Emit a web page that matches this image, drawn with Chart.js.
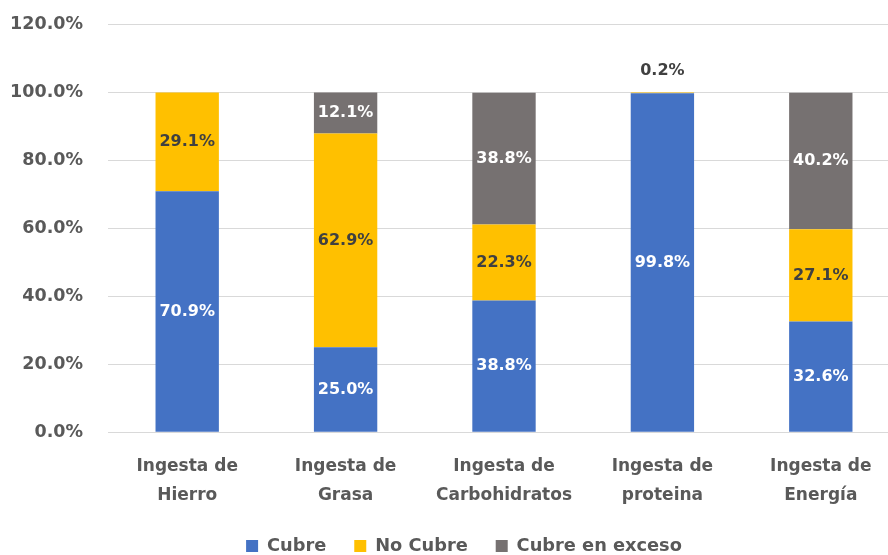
<!DOCTYPE html>
<html>
  <head>
    <title>Ingesta</title>
    <style>
      html, body { margin: 0; padding: 0; overflow: hidden; background: #fff; }
      #wrap { width: 900px; height: 576px; margin-top: -11px; position: relative; }
    </style>
    <script src="https://cdn.jsdelivr.net/npm/chart.js"></script>
  </head>
  <body>
    <div id="wrap"><canvas id="chart"></canvas></div>
    <script>
      const categories = [
        ["Ingesta de", "Hierro"],
        ["Ingesta de", "Grasa"],
        ["Ingesta de", "Carbohidratos"],
        ["Ingesta de", "proteina"],
        ["Ingesta de", "Energía"]
      ];
      const cubre = [70.9, 25.0, 38.8, 99.8, 32.6];
      const noCubre = [29.1, 62.9, 22.3, 0.2, 27.1];
      const cubreExceso = [0, 12.1, 38.8, 0, 40.2];
      const yTicks = [0, 20, 40, 60, 80, 100, 120];

      const FONT = "'DejaVu Sans', sans-serif";
      const TEXT = "#595959";

      // value labels inside the segments, tiny ones go above the bar
      const labelPlugin = {
        id: "segLabels",
        afterDatasetsDraw(chart) {
          const ctx = chart.ctx;
          ctx.save();
          ctx.font = "bold 16px " + FONT;
          ctx.textAlign = "center";
          ctx.textBaseline = "middle";
          chart.data.datasets.forEach((ds, i) => {
            const meta = chart.getDatasetMeta(i);
            meta.data.forEach((el, j) => {
              const v = ds.data[j];
              if (!v) return;
              const h = Math.abs(el.base - el.y);
              let y = (el.y + el.base) / 2;
              ctx.fillStyle = ds.labelColor;
              if (h < 14) {
                y = el.y - 22;
                ctx.fillStyle = "#404040";
              }
              ctx.fillText(v.toFixed(1) + "%", el.x, y);
            });
          });
          ctx.restore();
        }
      };

      // nudge the legend a bit to the right, like the original
      const legendShift = {
        id: "legendShift",
        afterLayout(chart) {
          chart.legend.left += 14;
          chart.legend.right += 14;
        }
      };

      new Chart(document.getElementById("chart"), {
        type: "bar",
        data: {
          labels: categories,
          datasets: [
            { label: "Cubre", data: cubre, backgroundColor: "#4472C4", labelColor: "#ffffff" },
            { label: "No Cubre", data: noCubre, backgroundColor: "#FFC000", labelColor: "#404040" },
            { label: "Cubre en exceso", data: cubreExceso, backgroundColor: "#767171", labelColor: "#ffffff" }
          ]
        },
        options: {
          responsive: true,
          maintainAspectRatio: false,
          animation: false,
          layout: { padding: { top: 13, left: 0, right: 0, bottom: 0 } },
          datasets: { bar: { barPercentage: 0.8, categoryPercentage: 0.5 } },
          plugins: {
            legend: {
              position: "bottom",
              labels: {
                boxWidth: 12,
                boxHeight: 12,
                padding: 28,
                color: TEXT,
                font: { family: FONT, size: 17.8, weight: "bold" }
              }
            },
            tooltip: { enabled: false }
          },
          scales: {
            x: {
              stacked: true,
              grid: { display: false, drawTicks: false },
              border: { display: false },
              ticks: {
                color: TEXT,
                padding: 20,
                font: { family: FONT, size: 17, weight: "bold", lineHeight: 1.7 }
              },
              afterFit(scale) { scale.height = 77; }
            },
            y: {
              stacked: true,
              min: 0,
              max: 120,
              afterBuildTicks(scale) {
                scale.ticks = yTicks.map(v => ({ value: v }));
              },
              grid: { color: "#D9D9D9", drawTicks: false, lineWidth: 1 },
              border: { display: false },
              ticks: {
                color: TEXT,
                padding: 25,
                font: { family: FONT, size: 17.5, weight: "bold" },
                callback: v => v.toFixed(1) + "%"
              },
              afterFit(scale) { scale.width = 108; }
            }
          }
        },
        plugins: [labelPlugin, legendShift]
      });
    </script>
  </body>
</html>
